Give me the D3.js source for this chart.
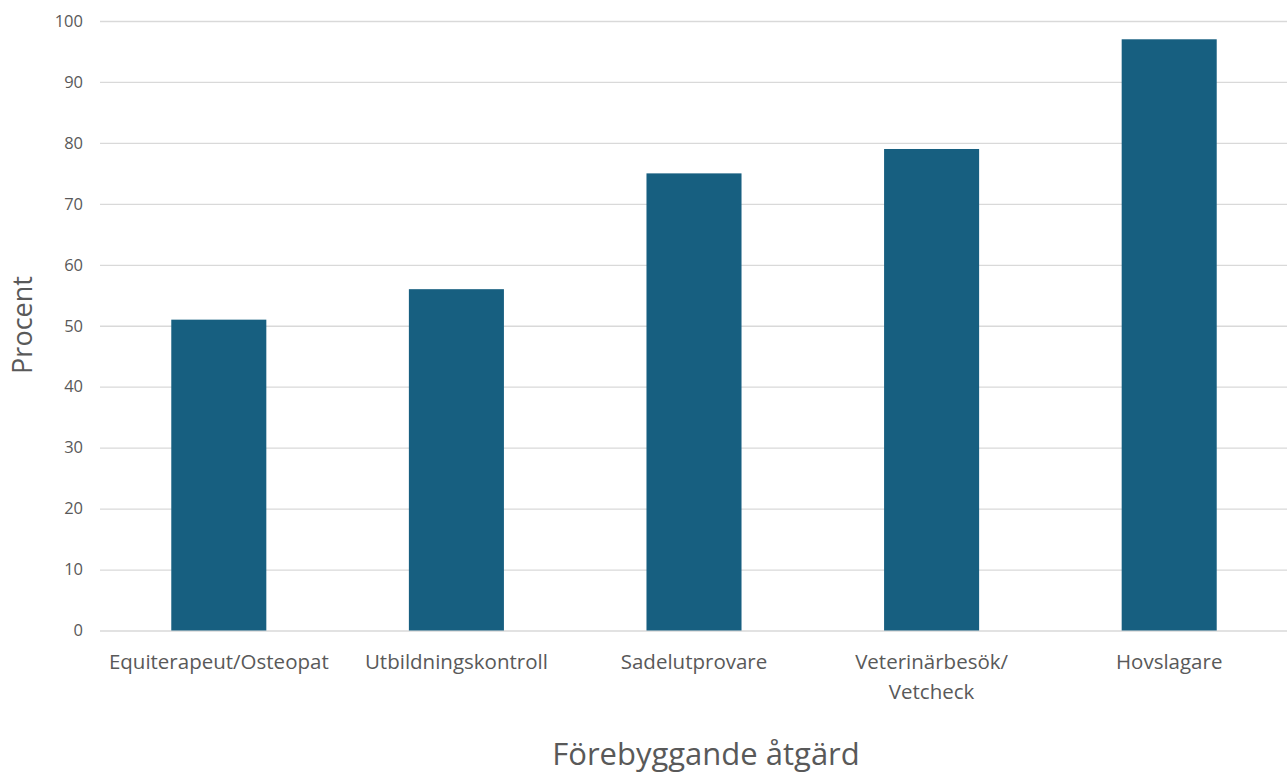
<!DOCTYPE html>
<html><head><meta charset="utf-8">
<script src="https://cdn.jsdelivr.net/npm/d3@7"></script>
<style>body{margin:0;background:#fff}svg{display:block}</style>
</head><body>
<svg id="c" width="1287" height="774"></svg>
<script>
const categories = [["Equiterapeut/Osteopat"], ["Utbildningskontroll"], ["Sadelutprovare"], ["Veterinärbesök/", "Vetcheck"], ["Hovslagare"]];
const values = [51, 56, 75, 79, 97];
const yTicks = [0, 10, 20, 30, 40, 50, 60, 70, 80, 90, 100];
const yTitle = "Procent";
const xTitle = "Förebyggande åtgärd";

(function () {
const svg = d3.select("#c");
const font = "'Open Sans', 'Noto Sans', sans-serif";
const mLeft = 100, mRight = 1288, mTop = 21, mBottom = 630.5;
const x = d3.scaleBand().domain(d3.range(categories.length)).range([mLeft, mRight]).paddingInner(0.6).paddingOuter(0.3);
const y = d3.scaleLinear().domain([0, 100]).range([mBottom, mTop]);

const yAxis = d3.axisLeft(y).tickValues(yTicks).tickSize(-(mRight - mLeft)).tickPadding(17);
const ga = svg.append("g").attr("transform", `translate(${mLeft},0)`).call(yAxis);
ga.select(".domain").remove();
ga.selectAll(".tick line").attr("stroke", "#d9d9d9").attr("stroke-width", 1.3);
ga.selectAll(".tick text").attr("fill", "#595959").style("font-family", font).style("font-size", "16.5px");

svg.append("g").selectAll("rect").data(values).join("rect")
  .attr("x", (d, i) => x(i)).attr("width", x.bandwidth())
  .attr("y", d => y(d)).attr("height", d => y(0) - y(d))
  .attr("fill", "#175f80");

const cx = svg.append("g");
categories.forEach((lines, i) => {
  const t = cx.append("text").attr("x", x(i) + x.bandwidth() / 2).attr("y", 669)
    .attr("text-anchor", "middle").attr("fill", "#595959")
    .style("font-family", font).style("font-size", "20.5px");
  lines.forEach((l, j) => t.append("tspan").attr("x", x(i) + x.bandwidth() / 2).attr("dy", j ? 30 : 0).text(l));
});

svg.append("text").attr("transform", "translate(32,325) rotate(-90)")
  .attr("text-anchor", "middle").attr("fill", "#595959")
  .style("font-family", font).style("font-size", "27px").text(yTitle);

svg.append("text").attr("x", 706).attr("y", 765)
  .attr("text-anchor", "middle").attr("fill", "#595959")
  .style("font-family", font).style("font-size", "31px").text(xTitle);
})();
</script>
</body></html>
